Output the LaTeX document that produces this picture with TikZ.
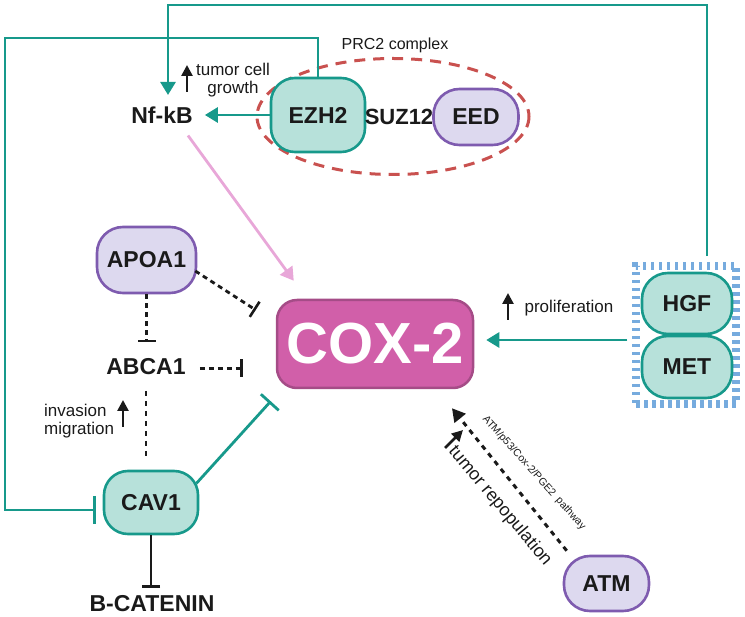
\documentclass[tikz,border=0pt]{standalone}
\usepackage{fontspec}
\setmainfont{Liberation Sans}
\usetikzlibrary{arrows.meta,calc,shapes.geometric}
\definecolor{tealc}{HTML}{17998B}
\definecolor{tealf}{HTML}{B7E1DA}
\definecolor{purpc}{HTML}{7E5BAF}
\definecolor{purpf}{HTML}{DDD9EF}
\definecolor{coxf}{HTML}{D15FA9}
\definecolor{coxd}{HTML}{A54C87}
\definecolor{pinkc}{HTML}{E8A7D8}
\definecolor{redd}{HTML}{C9514F}
\definecolor{bluec}{HTML}{76ABDE}
\definecolor{txt}{HTML}{1A1A1A}
\newcommand\labfont{\fontsize{23}{27}\selectfont\bfseries}
\newcommand\smallfont{\fontsize{17}{18.5}\selectfont}
\begin{document}
\begin{tikzpicture}[x=1pt,y=-1pt,
 tealbox/.style={draw=tealc,fill=tealf,line width=2.6pt,rounded corners=24pt,font=\labfont,text=txt,inner sep=0pt},
 purpbox/.style={draw=purpc,fill=purpf,line width=2.6pt,rounded corners=26pt,font=\labfont,text=txt,inner sep=0pt},
 lbl/.style={font=\labfont,text=txt,inner sep=0pt},
 small/.style={font=\smallfont,text=txt,inner sep=0pt},
 tline/.style={draw=tealc,line width=2.8pt},
 tarrow/.style={tline,-{Triangle[width=15pt,length=13pt]}},
 tinhib/.style={tline,-{Bar[width=26pt,line width=2.8pt]}},
 dinhib/.style={draw=txt,line width=2.8pt,dash pattern=on 5pt off 4pt,-{Bar[width=18pt,line width=2.6pt]}},
 upicon/.style={draw=txt,line width=2.6pt,-{Triangle[width=11pt,length=11pt]}},
]
\useasboundingbox (0,0) rectangle (745,617);

% PRC2 complex
\draw[draw=redd,line width=3pt,dash pattern=on 11pt off 8pt] (393,116.5) ellipse [x radius=136, y radius=58];
\node[small,font=\fontsize{16}{18}\selectfont] (prc) at (395,45) {PRC2 complex};
\node[tealbox,minimum width=94pt,minimum height=74pt] (ezh) at (318,115) {EZH2};
\node[lbl,font=\fontsize{22}{26}\selectfont\bfseries] (suz) at (399,117) {SUZ12};
\node[purpbox,minimum width=85pt,minimum height=56pt] (eed) at (476,117) {EED};

\node[lbl,inner sep=12pt] (nfkb) at (162,115.5) {Nf-kB};

% COX-2
\node[font=\fontsize{58}{60}\selectfont\bfseries,text=white,draw=coxd,fill=coxf,line width=2.5pt,rounded corners=20pt,minimum width=196pt,minimum height=88pt,inner sep=0pt] (cox) at (375,344) {COX-2};

\node[purpbox,minimum width=99pt,minimum height=66pt] (apoa) at (146.5,260) {APOA1};
\node[lbl,inner ysep=16pt,inner xsep=14pt] (abca) at (146,366.5) {ABCA1};
\node[tealbox,minimum width=94pt,minimum height=63pt] (cav) at (151,502.5) {CAV1};
\node[lbl,inner ysep=7.5pt] (bcat) at (152,604) {B-CATENIN};

% HGF / MET
\node[draw=bluec,line width=7.5pt,dash pattern=on 3.5pt off 4.5pt,minimum width=100pt,minimum height=138pt,inner sep=0pt] (hm) at (686,335) {};
\node[tealbox,minimum width=90pt,minimum height=61pt,rounded corners=26pt] (hgf) at (687,303.5) {HGF};
\node[tealbox,minimum width=90pt,minimum height=62pt,rounded corners=26pt] (met) at (687,367) {MET};

\node[purpbox,minimum width=85pt,minimum height=55pt] (atm) at (606.5,583.5) {ATM};

% long teal connectors
\coordinate (tr) at (707,5);
\coordinate (tl) at (168,5);
\draw[tarrow] ($(hm.north)+(21,-6)$) -- (tr) -- (tl) -- (tl |- nfkb.north);
\coordinate (l1) at (5,38);
\draw[tinhib,-{Bar[width=28pt,line width=2.8pt]}] (ezh.north) |- (l1) |- ($(cav.west)+(-7,7.5)$);

\draw[tarrow] (ezh.west) -- (nfkb.east |- ezh.west);
\draw[upicon] (187,92) -- (187,65);
\node[small,align=center] (tcg) at (233,80) {tumor cell\\growth};

\draw[draw=pinkc,line width=2.8pt,-{Triangle[width=15pt,length=13pt]}] ($(nfkb.center)+(26,20)$) -- ($(cox.north west)+(18,-18)$);

\draw[dinhib] ($(apoa.east)+(-2,11)$) -- ($(cox.west)+(-20,-34)$);
\draw[dinhib] (apoa.south) -- (apoa.south |- abca.north);
\coordinate (abT) at ($(cox.west)+(-33,0)$);
\draw[dinhib] ($(abca.east)+(0,2)$) -- ($(abca.east -| abT)+(0,2)$);
\draw[draw=txt,line width=2.8pt,dash pattern=on 5pt off 5pt,shorten >=14pt] (abca.south) -- (abca.south |- cav.north);

\draw[upicon] (123,427) -- (123,400);
\node[small,align=left,anchor=west] (inv) at (44,421) {invasion\\migration};

\draw[tinhib,-{Bar[width=24pt,line width=2.8pt]}] ($(cav.east)+(-3,-19)$) -- ($(cox.south west)+(-5,12)$);
\draw[draw=txt,line width=2.8pt,-{Bar[width=18pt,line width=2.8pt]}] (cav.south) -- (cav.south |- bcat.north);

\draw[tarrow] ($(hm.west)+(-5,5)$) -- ($(cox.east)+(12,-4)$);
\draw[upicon] (508,320) -- (508,293);
\node[small] (prol) at (569,308) {proliferation};

\draw[draw=txt,line width=3pt,dash pattern=on 5pt off 5pt,-{Triangle[width=14pt,length=13pt]}] ($(atm.north west)+(4,-4)$) -- ($(cox.south)+(77,19)$);
\draw[upicon] (445,448) -- (463,430);
\node[font=\fontsize{18}{20}\selectfont,text=txt,rotate=-50,inner sep=0pt] (trep) at (500,506) {tumor repopulation};
\node[font=\fontsize{10.5}{12}\selectfont,text=txt,rotate=-48,inner sep=0pt] (path) at (534,473) {ATM/p53/Cox-2/PGE2\ \ pathway};
\end{tikzpicture}
\end{document}
